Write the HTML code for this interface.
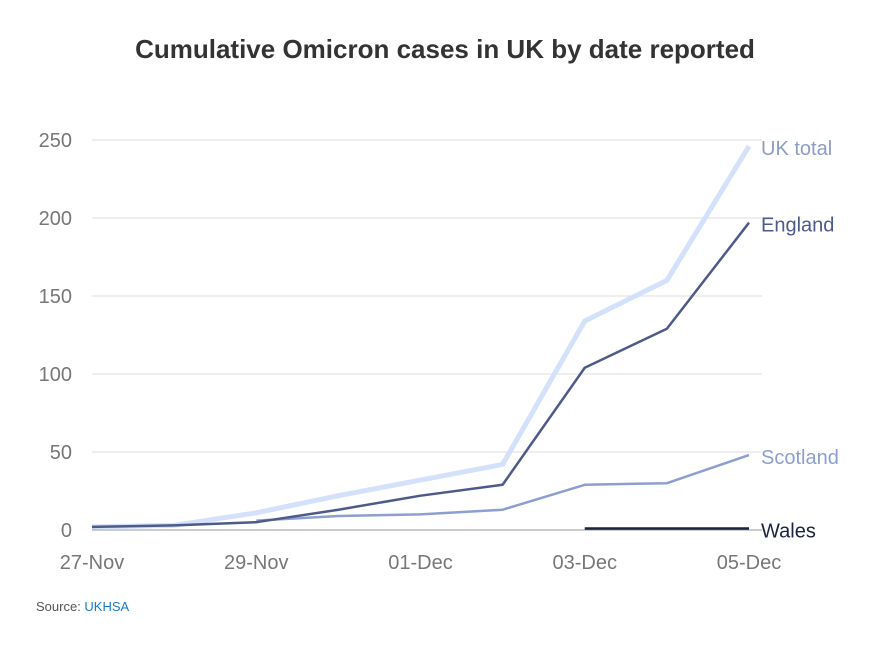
<!DOCTYPE html>
<html><head><meta charset="utf-8"><style>
body{margin:0;background:#fff;font-family:"Liberation Sans",sans-serif;}
</style></head><body>
<svg width="894" height="646" xmlns="http://www.w3.org/2000/svg">
<text x="445" y="58" text-anchor="middle" font-size="26" font-weight="bold" fill="#333">Cumulative Omicron cases in UK by date reported</text>
<g id="grid"></g>
<g id="yt"></g>
<g id="xt"></g>
<g id="lines"></g>
<text x="36" y="611" font-size="13" fill="#555">Source: <tspan fill="#1a7bc4">UKHSA</tspan></text>
</svg>
<script>
const dates=["27-Nov","28-Nov","29-Nov","30-Nov","01-Dec","02-Dec","03-Dec","04-Dec","05-Dec"];
const xTickLabels=["27-Nov","29-Nov","01-Dec","03-Dec","05-Dec"];
const yTicks=[0,50,100,150,200,250];
const ukTotal=[2,3,11,22,32,42,134,160,246];
const england=[2,3,5,13,22,29,104,129,197];
const scotland=[null,null,6,9,10,13,29,30,48];
const wales=[null,null,null,null,null,null,1,1,1];
const NS="http://www.w3.org/2000/svg";
const x=i=>92+i*(749-92)/8;
const y=v=>530-v*(390/250);
function mk(t,a,p){const e=document.createElementNS(NS,t);for(const k in a)e.setAttribute(k,a[k]);p.appendChild(e);return e;}
const grid=document.getElementById('grid'),yt=document.getElementById('yt'),xt=document.getElementById('xt'),lines=document.getElementById('lines');
yTicks.forEach(v=>{
 const l=mk('line',{x1:92,x2:762,y1:y(v),y2:y(v),stroke:v===0?'#999':'#ddd','stroke-width':1},grid);
 
 
 const t=mk('text',{x:72,y:y(v)+7,'text-anchor':'end','font-size':20,fill:'#777'},yt);t.textContent=v;
 
 
});
xTickLabels.forEach(d=>{
 const i=dates.indexOf(d);
 const t=mk('text',{x:x(i),y:569,'text-anchor':'middle','font-size':20,fill:'#777'},xt);t.textContent=d;
 
 
});
function series(vals,color,w,name,label,lc){
 let d='';vals.forEach((v,i)=>{if(v==null)return;d+=(d?'L':'M')+x(i)+','+y(v);});
 const p=mk('path',{d:d,fill:'none',stroke:color,'stroke-width':w,'stroke-linejoin':'round'},lines);
 
 
 const last=vals[vals.length-1];
 const t=mk('text',{x:761,y:y(last)+9,'font-size':20,fill:lc},lines);t.textContent=label;
 
 
}
series(ukTotal,'#d3e1fa',5,'uk-total','UK total','#8d9cc4');
series(scotland,'#8d9fd0',2.5,'scotland','Scotland','#8d9fd0');
series(england,'#4e5a8a',2.5,'england','England','#4e5a8a');
series(wales,'#1a2340',2.5,'wales','Wales','#1a2340');
</script>
</body></html>
